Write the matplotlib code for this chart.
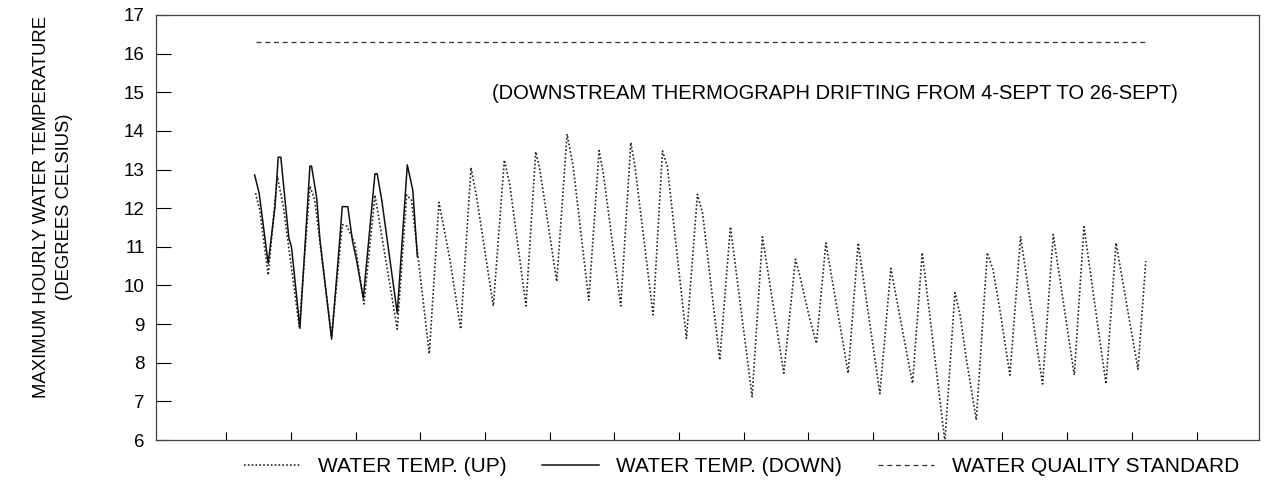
import numpy as np
import matplotlib
matplotlib.use('Agg')
import matplotlib.pyplot as plt

plt.rcParams['font.family'] = ['Liberation Sans', 'DejaVu Sans']

# time axis in days, values in degrees C
down_day = [3.05, 3.19, 3.47, 3.68, 3.78, 3.86, 3.99, 4.11, 4.19, 4.45,
            4.76, 4.81, 4.97, 5.07, 5.43, 5.64, 5.76, 5.93, 6.08, 6.20,
            6.41, 6.77, 6.84, 6.98, 7.46, 7.77, 7.94, 8.08]
down_temp = [12.86, 12.39, 10.57, 12.04, 13.32, 13.32, 12.21, 11.22, 11.00, 8.89,
             13.09, 13.09, 12.26, 11.18, 8.61, 10.75, 12.04, 12.04, 11.13, 10.66,
             9.67, 12.89, 12.89, 12.21, 9.28, 13.12, 12.47, 10.75]

up_day = [3.08, 3.21, 3.47, 3.75, 3.94, 4.43, 4.76, 4.91, 5.43, 5.76,
          5.90, 6.15, 6.43, 6.77, 7.46, 7.75, 7.90, 8.45, 8.75, 9.09,
          9.42, 9.74, 9.91, 10.43, 10.77, 10.94, 11.44, 11.74, 11.87, 12.39,
          12.71, 12.90, 13.38, 13.70, 13.83, 14.37, 14.68, 14.81, 15.37, 15.66,
          15.81, 16.40, 16.74, 16.90, 17.43, 17.76, 18.43, 18.75, 19.41, 19.77,
          19.91, 20.22, 20.42, 20.71, 21.40, 21.71, 22.38, 22.72, 23.31, 23.39,
          23.69, 24.39, 24.70, 24.85, 25.06, 25.36, 25.70, 25.88, 26.09, 26.40,
          26.73, 27.41, 27.74, 28.39, 28.69, 29.37, 29.68, 30.36, 30.60]
up_temp = [12.39, 11.95, 10.27, 12.82, 12.04, 8.93, 12.57, 12.21, 8.67, 11.57,
           11.54, 11.09, 9.52, 12.34, 8.87, 12.34, 12.21, 8.23, 12.15, 10.66,
           8.87, 13.05, 12.30, 9.47, 13.25, 12.60, 9.47, 13.46, 12.99, 10.10,
           13.92, 13.07, 9.62, 13.49, 12.90, 9.47, 13.70, 13.07, 9.24, 13.48,
           13.07, 8.63, 12.36, 11.87, 8.07, 11.52, 7.12, 11.26, 7.73, 10.68,
           10.23, 9.11, 8.50, 11.10, 7.73, 11.10, 7.20, 10.44, 7.81, 7.47,
           10.85, 5.96, 9.81, 9.28, 8.07, 6.52, 10.85, 10.40, 9.37, 7.68,
           11.26, 7.45, 11.32, 7.68, 11.52, 7.45, 11.10, 7.83, 10.63]

std_day = [3.09, 30.66]
std_temp = [16.3, 16.3]

fig = plt.figure(figsize=(12.69, 4.82), dpi=100)
ax = fig.add_axes([0.1229, 0.0871, 0.8692, 0.8818])

ax.plot(up_day, up_temp, color='#222222', lw=1.2, ls=(0, (1, 1.3)), label='WATER TEMP. (UP)')
ax.plot(down_day, down_temp, color='#111111', lw=1.1, ls='-', label='WATER TEMP. (DOWN)')
ax.plot(std_day, std_temp, color='#333333', lw=0.9, ls=(0, (4, 3)), label='WATER QUALITY STANDARD')

ax.text(10.39, 14.98, '(DOWNSTREAM THERMOGRAPH DRIFTING FROM 4-SEPT TO 26-SEPT)',
        fontsize=14.5, va='center', ha='left')

ax.set_xlim(0, 34.1)
ax.set_ylim(6, 17)
ax.set_yticks(range(6, 18))
ax.set_xticks(np.arange(2.17, 33, 2))
ax.set_xticklabels([])
ax.tick_params(axis='y', direction='in', length=11, width=0.8, labelsize=13.5, pad=8)
ax.tick_params(axis='x', direction='in', length=6, width=0.8)
for s in ax.spines.values():
    s.set_color('#444444')
    s.set_linewidth(0.9)

fig.text(0.042, 0.5705, 'MAXIMUM HOURLY WATER TEMPERATURE\n(DEGREES CELSIUS)',
         rotation=90, ha='center', va='center', multialignment='center',
         fontsize=13.3, linespacing=1.45)

ax.legend(loc='upper center', bbox_to_anchor=(0.531, 0.004), ncol=3, frameon=False,
          fontsize=15, handlelength=2.7, handletextpad=0.85, columnspacing=1.7)

fig.savefig('out.png', dpi=100)
